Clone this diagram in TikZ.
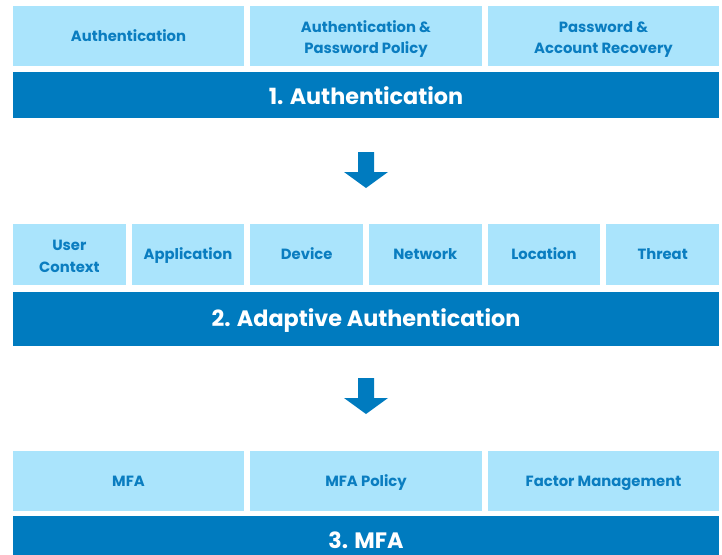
\documentclass[tikz,border=0pt]{standalone}
\usepackage{fontspec}
\setmainfont{Poppins}
\definecolor{lightb}{HTML}{AAE4FC}
\definecolor{darkb}{HTML}{007BBF}
\definecolor{txtb}{HTML}{0A7DC0}
\tikzset{
  lbox/.style={fill=lightb, draw=none, inner sep=0pt, text=txtb, font=\bfseries\fontsize{14.8}{21.5}\selectfont, align=center},
  one/.style={text height=10.5pt, text depth=0pt},
  two/.style={text height=35pt, text depth=0pt},
  bar/.style={fill=darkb, draw=none, inner sep=0pt, text=white, font=\bfseries\fontsize{22.3}{24}\selectfont, text height=15.6pt, text depth=0pt},
  downarrow/.style={fill=darkb, draw=none}
}
\begin{document}
\begin{tikzpicture}[x=1pt,y=-1pt]
\useasboundingbox (0,0) rectangle (722,554);
% row 1
\node[lbox, one, minimum width=231pt, minimum height=60pt] (a1) at (128.5,36) {Authentication};
\node[lbox, two, minimum width=232pt, minimum height=60pt] (a2) at (366,36) {Authentication \&\\Password Policy};
\node[lbox, two, minimum width=231pt, minimum height=60pt] (a3) at (603.5,36) {Password \&\\Account Recovery};
\node[bar, text height=18.6pt, minimum width=706pt, minimum height=46pt] (b1) at (366,95) {1. Authentication};
% arrow 1
\coordinate (ar1) at (366,152);
\fill[downarrow] (ar1) ++(-8,0) -- ++(16,0) -- ++(0,20) -- ++(14,0) -- ++(-22,16) -- ++(-22,-16) -- ++(14,0) -- cycle;
% row 2
\node[lbox, two, minimum width=112.67pt, minimum height=61pt] (c1) at (69.33,254.5) {User\\Context};
\node[lbox, one, minimum width=112.67pt, minimum height=61pt] (c2) at (188,254.5) {Application};
\node[lbox, one, minimum width=112.67pt, minimum height=61pt] (c3) at (306.67,254.5) {Device};
\node[lbox, one, minimum width=112.67pt, minimum height=61pt] (c4) at (425.33,254.5) {Network};
\node[lbox, one, minimum width=112.67pt, minimum height=61pt] (c5) at (544,254.5) {Location};
\node[lbox, one, minimum width=112.67pt, minimum height=61pt] (c6) at (662.67,254.5) {Threat};
\node[bar, minimum width=706pt, minimum height=54pt] (b2) at (366,319) {2. Adaptive Authentication};
% arrow 2
\coordinate (ar2) at (366,378);
\fill[downarrow] (ar2) ++(-8,0) -- ++(16,0) -- ++(0,20) -- ++(14,0) -- ++(-22,16) -- ++(-22,-16) -- ++(14,0) -- cycle;
% row 3
\node[lbox, one, minimum width=231pt, minimum height=60pt] (d1) at (128.5,481) {MFA};
\node[lbox, one, minimum width=232pt, minimum height=60pt] (d2) at (366,481) {MFA Policy};
\node[lbox, one, minimum width=231pt, minimum height=60pt] (d3) at (603.5,481) {Factor Management};
\node[bar, minimum width=706pt, minimum height=54pt, anchor=north] (b3) at (366,516) {};
\node[bar, fill=none] (t3) at (366,540.5) {3. MFA};
\end{tikzpicture}
\end{document}
